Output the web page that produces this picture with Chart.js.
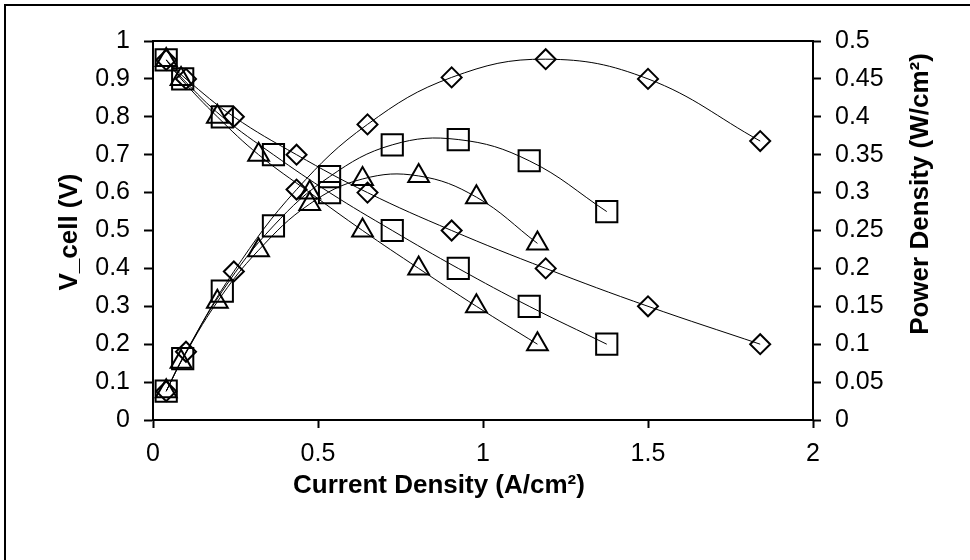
<!DOCTYPE html>
<html>
<head>
<meta charset="utf-8">
<title>Polarization and power density curves</title>
<script src="https://cdn.jsdelivr.net/npm/chart.js@4.4.1/dist/chart.umd.min.js"></script>
<style>
  html, body { margin: 0; padding: 0; background: #fff; }
  #wrap { position: relative; width: 970px; height: 560px; overflow: hidden; }
</style>
</head>
<body>
<div id="wrap"><canvas id="chart" width="970" height="560"></canvas></div>
<script>
// ---- data ----
const xTicks = [0, 0.5, 1, 1.5, 2];

// diamond series
const currentDiamond = [0.04, 0.10, 0.245, 0.435, 0.65, 0.905, 1.19, 1.50, 1.84];
const voltDiamond    = [0.95, 0.90, 0.80, 0.70, 0.60, 0.50, 0.40, 0.30, 0.20];
const powerDiamond   = [0.038, 0.09, 0.196, 0.304, 0.39, 0.452, 0.476, 0.45, 0.368];

// square series
const currentSquare = [0.04, 0.09, 0.21, 0.365, 0.535, 0.725, 0.925, 1.14, 1.375];
const voltSquare    = [0.95, 0.90, 0.80, 0.70, 0.60, 0.50, 0.40, 0.30, 0.20];
const powerSquare   = [0.038, 0.081, 0.17, 0.256, 0.321, 0.363, 0.37, 0.342, 0.275];

// triangle series
const currentTriangle = [0.04, 0.085, 0.195, 0.32, 0.475, 0.635, 0.805, 0.98, 1.165];
const voltTriangle    = [0.95, 0.90, 0.80, 0.70, 0.60, 0.50, 0.40, 0.30, 0.20];
const powerTriangle   = [0.038, 0.077, 0.156, 0.224, 0.285, 0.318, 0.322, 0.294, 0.233];

const FONT = "'Liberation Sans', Arial, sans-serif";

function pts(xs, ys) {
  return xs.map((x, i) => ({ x, y: ys[i] }));
}

function series(label, xs, ys, shape, radius, axis) {
  return {
    label,
    data: pts(xs, ys),
    yAxisID: axis,
    showLine: true,
    tension: 0.4,
    borderColor: '#000',
    borderWidth: 1,
    pointStyle: shape,
    pointRadius: radius,
    pointHoverRadius: radius,
    pointBorderWidth: 2,
    pointBorderColor: '#000',
    pointBackgroundColor: 'rgba(0,0,0,0)',
  };
}

// plain number labels: 1 not 1.0, 0.5 not 0.50
const fmt = v => String(Number(v.toFixed(2)));

function vTitle(ctx, text, x, y) {
  ctx.save();
  ctx.fillStyle = '#000';
  ctx.font = 'bold 26px ' + FONT;
  ctx.textAlign = 'center';
  ctx.textBaseline = 'middle';
  ctx.translate(x, y);
  ctx.rotate(-Math.PI / 2);
  ctx.fillText(text, 0, 0);
  ctx.restore();
}

// frame, outer border and axis titles
const decor = {
  id: 'decor',
  beforeDraw(chart) {
    const ctx = chart.ctx;
    ctx.save();
    ctx.fillStyle = '#fff';
    ctx.fillRect(0, 0, chart.width, chart.height);
    ctx.fillStyle = '#000';
    ctx.fillRect(4, 4, chart.width, 2);
    ctx.fillRect(4, 4, 2, chart.height);
    ctx.restore();
  },
  afterDraw(chart) {
    const ctx = chart.ctx;
    const a = chart.chartArea;
    ctx.save();
    ctx.strokeStyle = '#000';
    ctx.lineWidth = 2;
    ctx.strokeRect(a.left, a.top, a.right - a.left, a.bottom - a.top);

    ctx.fillStyle = '#000';
    ctx.font = 'bold 26px ' + FONT;
    ctx.textAlign = 'center';
    ctx.textBaseline = 'middle';
    ctx.fillText('Current Density (A/cm²)', 439, 486);
    ctx.restore();

    vTitle(ctx, 'V_cell (V)', 70, 232);
    vTitle(ctx, 'Power Density (W/cm²)', 921, 194);
  }
};

const tickFont = { family: FONT, size: 25 };

new Chart(document.getElementById('chart'), {
  type: 'scatter',
  data: {
    datasets: [
      series('V diamond', currentDiamond, voltDiamond, 'rectRot', 10, 'yV'),
      series('V square', currentSquare, voltSquare, 'rect', 15, 'yV'),
      series('V triangle', currentTriangle, voltTriangle, 'triangle', 12, 'yV'),
      series('P diamond', currentDiamond, powerDiamond, 'rectRot', 10, 'yP'),
      series('P square', currentSquare, powerSquare, 'rect', 15, 'yP'),
      series('P triangle', currentTriangle, powerTriangle, 'triangle', 12, 'yP'),
    ]
  },
  options: {
    responsive: false,
    animation: false,
    events: [],
    layout: { padding: { top: 41, left: 0, right: 0, bottom: 0 } },
    plugins: { legend: { display: false }, tooltip: { enabled: false } },
    scales: {
      x: {
        type: 'linear', position: 'bottom', min: 0, max: 2,
        afterFit: s => { s.height = 140; },
        afterBuildTicks: s => { s.ticks = xTicks.map(v => ({ value: v })); },
        border: { display: true, color: '#000', width: 2 },
        grid: { drawOnChartArea: false, drawTicks: true, tickLength: 8, tickWidth: 2, color: '#000' },
        ticks: { color: '#000', font: tickFont, padding: 11, maxRotation: 0, callback: fmt }
      },
      yV: {
        type: 'linear', position: 'left', min: 0, max: 1,
        afterFit: s => { s.width = 153; },
        border: { display: true, color: '#000', width: 2 },
        grid: { drawOnChartArea: false, drawTicks: true, tickLength: 9, tickWidth: 2, color: '#000' },
        ticks: { stepSize: 0.1, color: '#000', font: tickFont, padding: 14, callback: fmt }
      },
      yP: {
        type: 'linear', position: 'right', min: 0, max: 0.5,
        afterFit: s => { s.width = 157; },
        border: { display: true, color: '#000', width: 2 },
        grid: { drawOnChartArea: false, drawTicks: true, tickLength: 8, tickWidth: 2, color: '#000' },
        ticks: { stepSize: 0.05, color: '#000', font: tickFont, padding: 14, callback: fmt }
      }
    }
  },
  plugins: [decor]
});
</script>
</body>
</html>
